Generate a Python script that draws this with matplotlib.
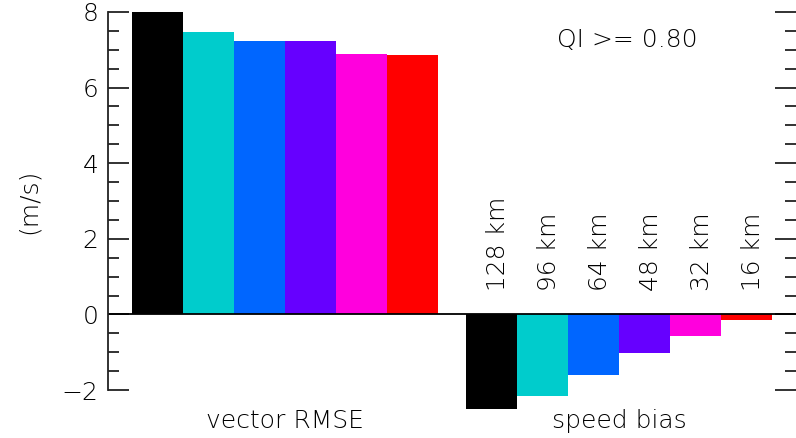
import numpy as np
import matplotlib
matplotlib.use('Agg')
import matplotlib.pyplot as plt
from matplotlib.ticker import MultipleLocator

# RMSE and speed bias of the winds for each averaging scale (QI >= 0.80)
scales = ['128 km', '96 km', '64 km', '48 km', '32 km', '16 km']
vector_rmse = [8.0, 7.47, 7.23, 7.23, 6.9, 6.85]
speed_bias = [-2.49, -2.17, -1.6, -1.01, -0.58, -0.16]
bar_colors = ['#000000', '#00CCCC', '#0066FF', '#6600FF', '#FF00DD', '#FF0000']
group_names = ['vector RMSE', 'speed bias']

plt.rcParams['font.family'] = ['DejaVu Sans']
plt.rcParams['font.weight'] = 'light'
plt.rcParams['axes.labelweight'] = 'light'
fs = 18

fig = plt.figure(figsize=(7.96, 4.38), dpi=100)
ax = fig.add_axes([108 / 796, 48 / 438, 1 - 108 / 796, (390 - 12) / 438])

x1 = np.arange(len(scales))
x2 = x1 + 6.55
ax.bar(x1, vector_rmse, width=1.0, color=bar_colors, linewidth=0, clip_on=False)
ax.bar(x2, speed_bias, width=1.0, color=bar_colors, linewidth=0, clip_on=False)
ax.axhline(0, color='black', lw=1.3)

ax.set_xlim(-0.97, 12.52)
ax.set_ylim(-2, 8)
ax.set_xticks([])
ax.yaxis.set_major_locator(MultipleLocator(2))
ax.yaxis.set_minor_locator(MultipleLocator(0.5))
ax.tick_params(axis='y', which='both', direction='in', left=True, right=True,
               width=1.3, color='#222222', labelsize=fs, pad=7)
ax.tick_params(axis='y', which='major', length=15)
ax.tick_params(axis='y', which='minor', length=8)
for side in ['top', 'bottom', 'right']:
    ax.spines[side].set_visible(False)
ax.spines['left'].set_linewidth(1.3)
ax.spines['left'].set_color('#222222')

ax.set_ylabel('(m/s)', fontsize=fs, fontweight='light', labelpad=15)

# scale labels above the speed bias bars
for xi, lab in zip(x2, scales):
    ax.text(xi + 0.12, 0.62, lab, rotation=90, ha='center', va='bottom', fontsize=fs)

ax.text(np.mean(x1), -2.82, group_names[0], ha='center', va='center', fontsize=fs)
ax.text(np.mean(x2), -2.82, group_names[1], ha='center', va='center', fontsize=fs)
ax.text(7.83, 7.26, 'QI >= 0.80', ha='left', va='center', fontsize=fs)

fig.savefig('out.png', dpi=100)
